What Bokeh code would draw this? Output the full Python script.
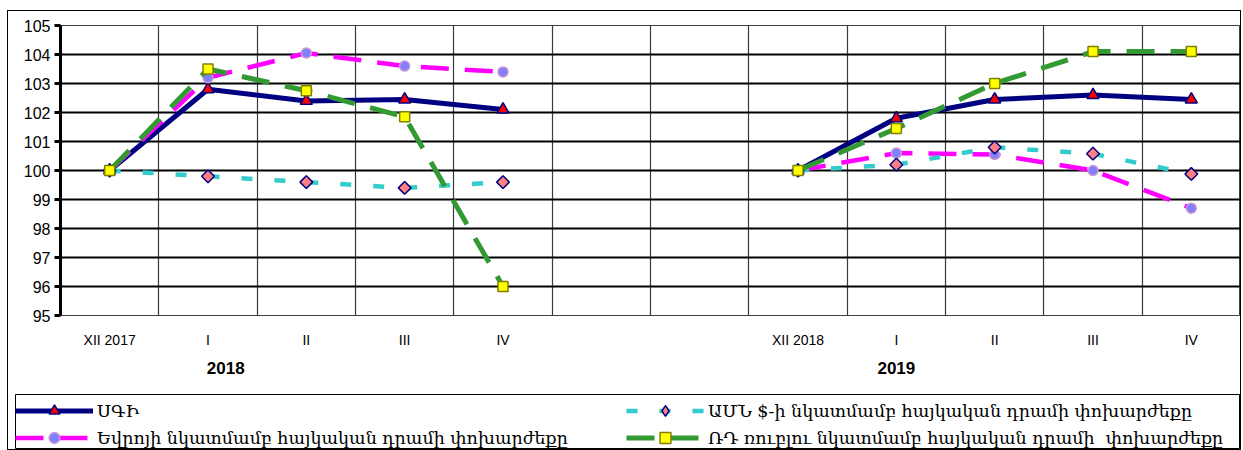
import math
from bokeh.plotting import figure
from bokeh.layouts import column
from bokeh.models import (ColumnDataSource, FixedTicker, LinearAxis, Legend, LegendItem,
                          Range1d)
from bokeh.embed import file_html
from bokeh.resources import INLINE

nan = float("nan")
# categories (two blank slots separate the years)
categories = ["XII 2017", "I", "II", "III", "IV", "", "", "XII 2018", "I", "II", "III", "IV"]
years = ["2018", "2019"]
year_pos = [1.68, 8.5]

cpi = [100, 102.8, 102.4, 102.45, 102.1, nan, nan, 100, 101.8, 102.45, 102.6, 102.45]
eur = [100, 103.2, 104.05, 103.6, 103.4, nan, nan, 100, 100.6, 100.55, 100.0, 98.7]
usd = [100, 99.8, 99.6, 99.4, 99.6, nan, nan, 100, 100.2, 100.8, 100.58, 99.88]
rub = [100, 103.5, 102.75, 101.85, 96.0, nan, nan, 100, 101.45, 103.0, 104.1, 104.1]

names = ["ՍԳԻ",
         "Եվրոյի նկատմամբ հայկական դրամի փոխարժեքը",
         "ԱՄՆ $-ի նկատմամբ հայկական դրամի փոխարժեքը",
         "ՌԴ ռուբլու նկատմամբ հայկական դրամի  փոխարժեքը"]

x = [i + 0.5 for i in range(len(categories))]
src = ColumnDataSource(dict(x=x, cpi=cpi, eur=eur, usd=usd, rub=rub))

# series styles
S_CPI = dict(line=dict(line_color="#000080", line_width=5),
             mark=dict(marker="triangle", size=12, fill_color="red", line_color="#000080",
                       line_width=1.5))
S_EUR = dict(line=dict(line_color="#FF00FF", line_width=4.5, line_dash="28 16"),
             mark=dict(marker="circle", size=10, fill_color="#8080FF", line_color="#CC99CC",
                       line_width=1.5))
S_USD = dict(line=dict(line_color="#33CCCC", line_width=4.5, line_dash="11 22"),
             mark=dict(marker="square", size=9, angle=math.pi / 4, fill_color="#FF8080",
                       line_color="#000080", line_width=1.5))
S_RUB = dict(line=dict(line_color="#339933", line_width=5, line_dash="28 16"),
             mark=dict(marker="square", size=10, fill_color="#FFFF00", line_color="#808000",
                       line_width=1.5))

p = figure(width=1232, height=383, output_backend="svg", toolbar_location=None,
           x_range=Range1d(0, 12), y_range=Range1d(95, 105),
           min_border_left=52, min_border_top=14, min_border_right=0, min_border_bottom=79)
p.frame_align = False
p.background_fill_color = "white"
p.outline_line_color = "#404040"
p.outline_line_width = 1

# grids
p.ygrid.ticker = FixedTicker(ticks=list(range(95, 106)))
p.ygrid.grid_line_color = "black"
p.ygrid.grid_line_width = 2
p.xgrid.ticker = FixedTicker(ticks=list(range(0, 13)))
p.xgrid.grid_line_color = "#3a3a3a"
p.xgrid.grid_line_width = 1.2

# y axis
ya = p.yaxis[0]
ya.ticker = FixedTicker(ticks=list(range(95, 106)))
ya.axis_line_width = 3
ya.axis_line_color = "black"
ya.major_tick_line_width = 3
ya.major_tick_out = 6
ya.major_tick_in = 0
ya.minor_tick_line_color = None
ya.major_label_text_font = "Liberation Sans"
ya.major_label_text_font_size = "16px"
ya.major_label_text_color = "black"
ya.major_label_standoff = 4

# x axis (categories)
xa = p.xaxis[0]
xa.ticker = FixedTicker(ticks=x)
xa.major_label_overrides = {xi: c for xi, c in zip(x, categories)}
xa.axis_line_color = None
xa.major_tick_line_color = None
xa.minor_tick_line_color = None
xa.major_label_text_font = "Liberation Sans"
xa.major_label_text_font_size = "14px"
xa.major_label_text_color = "black"
xa.major_label_standoff = 10

# year axis
ya2 = LinearAxis(ticker=FixedTicker(ticks=year_pos),
                 major_label_overrides={xp: y for xp, y in zip(year_pos, years)})
ya2.axis_line_color = None
ya2.major_tick_line_color = None
ya2.minor_tick_line_color = None
ya2.major_label_text_font = "Liberation Sans"
ya2.major_label_text_font_style = "bold"
ya2.major_label_text_font_size = "17px"
ya2.major_label_text_color = "black"
ya2.major_label_standoff = 5
p.add_layout(ya2, "below")

for col, st in [("cpi", S_CPI), ("eur", S_EUR), ("usd", S_USD), ("rub", S_RUB)]:
    p.line("x", col, source=src, **st["line"])
    p.scatter("x", col, source=src, **st["mark"])

# ---- legend panel ----
p2 = figure(width=1232, height=55, output_backend="svg", toolbar_location=None,
            x_range=Range1d(0, 1), y_range=Range1d(0, 1),
            x_axis_location=None, y_axis_location=None,
            min_border_left=7, min_border_top=0, min_border_right=0, min_border_bottom=0)
p2.frame_align = False
p2.grid.visible = False
p2.outline_line_color = "black"
p2.outline_line_width = 1

# legend proxies: a single missing point each, so nothing is drawn in the panel itself
proxy = ColumnDataSource(dict(x=[nan], y=[nan]))
items = []
for name, st in zip(names, [S_CPI, S_EUR, S_USD, S_RUB]):
    mk = dict(st["mark"])
    if "angle" in mk:          # legends ignore the angle: use a diamond shape instead
        mk.pop("angle")
        mk["marker"] = "diamond"
    r1 = p2.line("x", "y", source=proxy, **st["line"])
    r2 = p2.scatter("x", "y", source=proxy, **mk)
    items.append(LegendItem(label=name, renderers=[r1, r2]))


def make_legend(its, loc):
    lg = Legend(items=its, location=loc)
    lg.label_text_font = "DejaVu Serif"
    lg.label_text_font_size = "17.5px"
    lg.label_text_color = "black"
    lg.glyph_width = 78
    lg.glyph_height = 27
    lg.label_standoff = 4
    lg.label_height = 20
    lg.spacing = 0
    lg.padding = 4
    lg.margin = 0
    lg.border_line_color = None
    lg.background_fill_alpha = 0
    return lg


p2.add_layout(make_legend(items[:2], (0, -2)), "center")
p2.add_layout(make_legend(items[2:], (611, -2)), "center")

layout = column(p, p2, spacing=0)
layout.styles = {"border": "1px solid black"}
layout.margin = (10, 0, 0, 7)

open("out.html", "w").write(file_html(layout, INLINE))
